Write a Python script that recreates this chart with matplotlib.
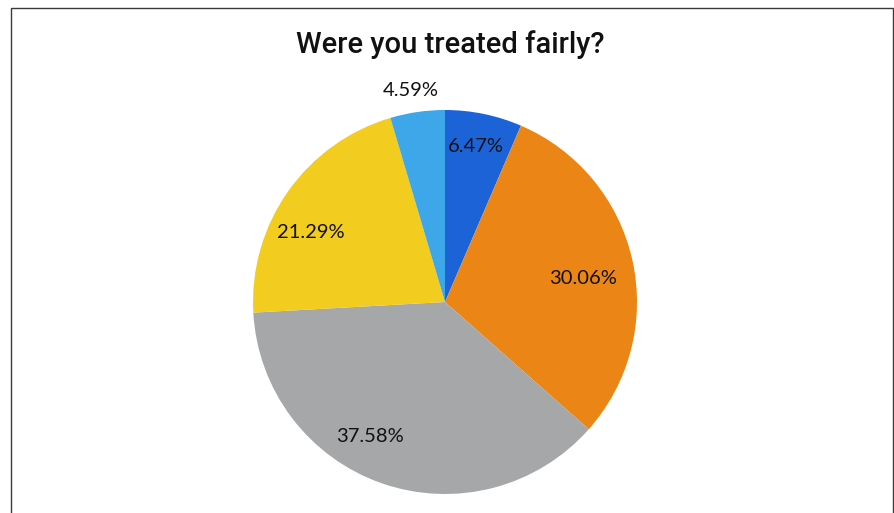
import matplotlib
matplotlib.use("Agg")
import matplotlib.pyplot as plt
from matplotlib.patches import Rectangle

# data
answers = ["Yes", "No", "Somewhat", "Not sure", "Other"]
shares = [6.47, 30.06, 37.58, 21.29, 4.59]
colors = ["#1d63d8", "#ea8516", "#a6a7a9", "#f2cc1e", "#3ea7e9"]
title = "Were you treated fairly?"

# label spots, in pie radius units (Excel best-fit style placement)
label_xy = [(0.16, 0.81), (0.72, 0.125), (-0.39, -0.70), (-0.70, 0.36), (-0.18, 1.10)]

fig = plt.figure(figsize=(8.95, 5.13), dpi=100)
fig.patch.set_facecolor("white")

# frame round the chart (bottom edge is cut off in the reference)
fig.patches.append(Rectangle((11 / 895, -0.05), 882 / 895, 1.05 - 8 / 513,
                             transform=fig.transFigure, fill=False,
                             edgecolor="#3a3a3a", linewidth=1.0))

ax = fig.add_axes([253 / 895, 19 / 513, 384 / 895, 384 / 513])
wedges, _ = ax.pie(shares, colors=colors, startangle=90, counterclock=False,
                   radius=1.0, wedgeprops=dict(linewidth=0))
ax.set_xlim(-1, 1)
ax.set_ylim(-1, 1)
ax.set_aspect("equal")
ax.axis("off")

for val, (x, y) in zip(shares, label_xy):
    ax.text(x, y, f"{val:.2f}%", ha="center", va="center",
            fontsize=14.5, family="Lato", color="#111111")

fig.text(450 / 895, 1 - 53 / 513, title, ha="center", va="baseline",
         fontsize=21, family="Roboto", fontweight="medium", color="#111111")

fig.savefig("out.png", dpi=100)
